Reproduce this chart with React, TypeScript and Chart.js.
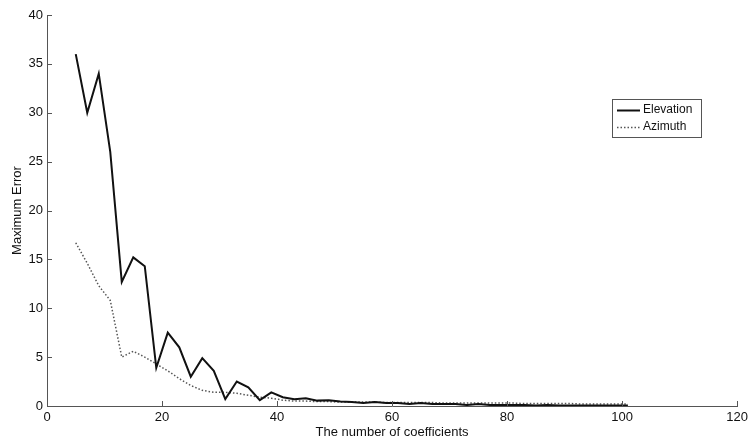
import React, { useEffect, useRef } from "react";
import { Chart, registerables } from "chart.js";

Chart.register(...registerables);

const coefficients: number[] = [
  5, 7, 9, 11, 13, 15, 17, 19, 21, 23, 25, 27, 29, 31, 33, 35, 37, 39, 41, 43,
  45, 47, 49, 51, 53, 55, 57, 59, 61, 63, 65, 67, 69, 71, 73, 75, 77, 79, 81,
  83, 85, 87, 89, 91, 93, 95, 97, 99, 101,
];

const elevation: number[] = [
  36, 30, 34, 26, 12.7, 15.2, 14.3, 3.9, 7.5, 6.0, 3.0, 4.9, 3.6, 0.7, 2.5,
  1.9, 0.6, 1.4, 0.9, 0.7, 0.8, 0.55, 0.6, 0.45, 0.4, 0.3, 0.4, 0.3, 0.3, 0.2,
  0.3, 0.2, 0.2, 0.2, 0.1, 0.2, 0.1, 0.1, 0.1, 0.1, 0.05, 0.1, 0.05, 0.05,
  0.05, 0.05, 0.05, 0.05, 0.05,
];

const azimuth: number[] = [
  16.7, 14.6, 12.3, 10.8, 5.0, 5.6, 5.0, 4.3, 3.6, 2.8, 2.1, 1.6, 1.4, 1.4,
  1.3, 1.1, 0.9, 0.8, 0.6, 0.5, 0.5, 0.45, 0.45, 0.4, 0.4, 0.4, 0.4, 0.35,
  0.35, 0.35, 0.35, 0.35, 0.3, 0.3, 0.3, 0.3, 0.3, 0.3, 0.3, 0.25, 0.25, 0.25,
  0.25, 0.25, 0.2, 0.2, 0.2, 0.2, 0.2,
];

const xTicks: number[] = [0, 20, 40, 60, 80, 100, 120];
const yTicks: number[] = [0, 5, 10, 15, 20, 25, 30, 35, 40];

const FONT = "'Liberation Sans', Arial, Helvetica, sans-serif";

const inwardTicks = {
  id: "inwardTicks",
  afterDatasetsDraw(chart: any) {
    const { ctx, chartArea, scales } = chart;
    ctx.save();
    ctx.strokeStyle = "#555";
    ctx.lineWidth = 1;
    ctx.beginPath();
    xTicks.forEach((v) => {
      const px = Math.round(scales.x.getPixelForValue(v)) + 0.5;
      ctx.moveTo(px, chartArea.bottom);
      ctx.lineTo(px, chartArea.bottom - 5);
    });
    yTicks.forEach((v) => {
      const py = Math.round(scales.y.getPixelForValue(v)) + 0.5;
      ctx.moveTo(chartArea.left, py);
      ctx.lineTo(chartArea.left + 5, py);
    });
    ctx.stroke();
    ctx.restore();
  },
};

const boxLegend = {
  id: "boxLegend",
  afterDraw(chart: any) {
    const { ctx } = chart;
    const left = 612;
    const top = 99;
    const right = 701;
    const bottom = 137;
    ctx.save();
    ctx.fillStyle = "#fff";
    ctx.fillRect(left, top, right - left, bottom - top);
    ctx.strokeStyle = "#555";
    ctx.lineWidth = 1;
    ctx.strokeRect(left + 0.5, top + 0.5, right - left, bottom - top);
    ctx.font = `12px ${FONT}`;
    ctx.textBaseline = "middle";
    ctx.fillStyle = "#111";
    const rows = [110, 127];
    chart.data.datasets.forEach((ds: any, i: number) => {
      const y = rows[i] + 0.5;
      ctx.beginPath();
      ctx.strokeStyle = ds.borderColor;
      ctx.lineWidth = ds.borderWidth;
      ctx.setLineDash(ds.borderDash || []);
      ctx.moveTo(617, y);
      ctx.lineTo(640, y);
      ctx.stroke();
      ctx.setLineDash([]);
      ctx.fillText(ds.label, 643, rows[i]);
    });
    ctx.restore();
  },
};

export default function App() {
  const ref = useRef<HTMLCanvasElement | null>(null);

  useEffect(() => {
    document.body.style.margin = "0";
    document.body.style.background = "#fff";
    const canvas = ref.current;
    if (!canvas) return;
    const chart = new Chart(canvas, {
      type: "line",
      data: {
        datasets: [
          {
            label: "Elevation",
            data: coefficients.map((x, i) => ({ x, y: elevation[i] })),
            borderColor: "#111",
            borderWidth: 2,
            pointRadius: 0,
            tension: 0,
            fill: false,
          },
          {
            label: "Azimuth",
            data: coefficients.map((x, i) => ({ x, y: azimuth[i] })),
            borderColor: "#555",
            borderWidth: 1.5,
            borderDash: [1.5, 2],
            pointRadius: 0,
            tension: 0,
            fill: false,
          },
        ],
      },
      options: {
        responsive: false,
        animation: false,
        layout: { padding: { top: 15, right: 11, left: 0, bottom: 0 } },
        plugins: {
          legend: { display: false },
          tooltip: { enabled: false },
        },
        scales: {
          x: {
            type: "linear",
            min: 0,
            max: 120,
            afterFit: (s: any) => {
              s.height = 36;
            },
            afterBuildTicks: (s: any) => {
              s.ticks = xTicks.map((v) => ({ value: v }));
            },
            grid: { display: false, drawTicks: false },
            border: { display: true, color: "#555", width: 1 },
            ticks: {
              color: "#111",
              font: { family: FONT, size: 13 },
              padding: 4,
              maxRotation: 0,
              autoSkip: false,
            },
            title: {
              display: true,
              text: "The number of coefficients",
              color: "#111",
              font: { family: FONT, size: 13 },
              padding: { top: 0, bottom: 2 },
            },
          },
          y: {
            type: "linear",
            min: 0,
            max: 40,
            afterFit: (s: any) => {
              s.width = 47;
            },
            afterBuildTicks: (s: any) => {
              s.ticks = yTicks.map((v) => ({ value: v }));
            },
            grid: { display: false, drawTicks: false },
            border: { display: true, color: "#555", width: 1 },
            ticks: {
              color: "#111",
              font: { family: FONT, size: 13 },
              padding: 4,
              autoSkip: false,
            },
            title: {
              display: true,
              text: "Maximum Error",
              color: "#111",
              font: { family: FONT, size: 13 },
              padding: { top: 10, bottom: 0 },
            },
          },
        },
      },
      plugins: [inwardTicks, boxLegend],
    });
    return () => chart.destroy();
  }, []);

  return (
    <div style={{ width: 752, height: 442, background: "#fff" }}>
      <canvas ref={ref} width={752} height={442} />
    </div>
  );
}
